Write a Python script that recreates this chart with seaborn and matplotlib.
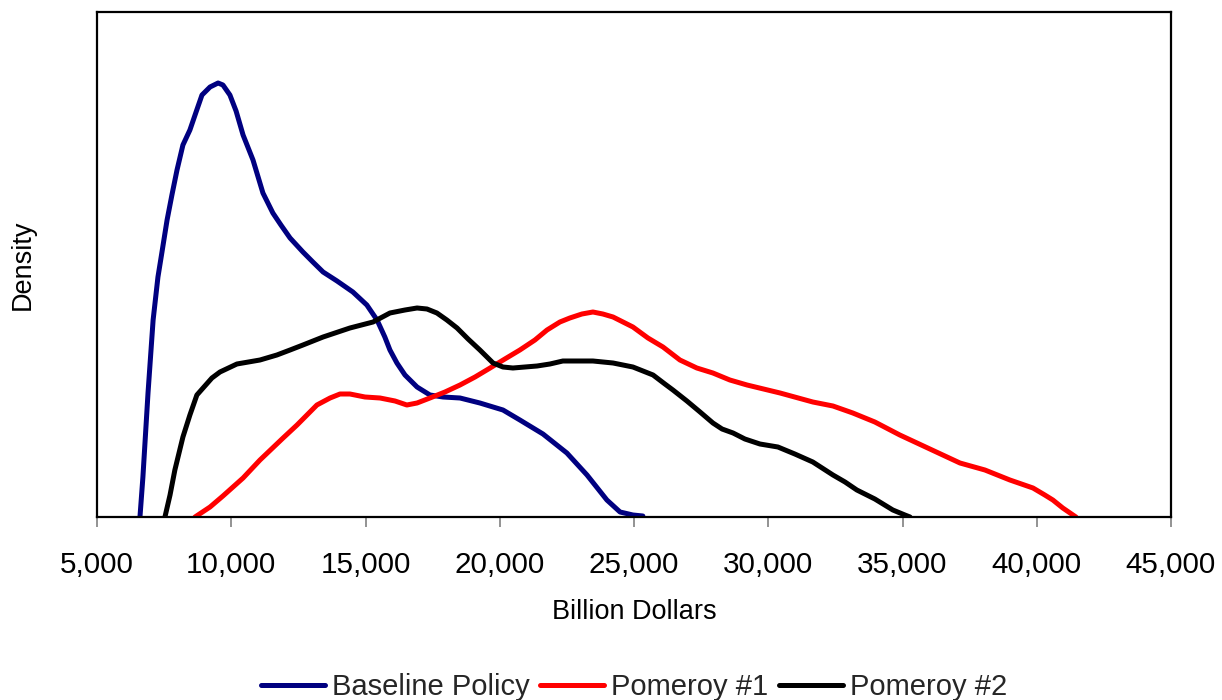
import numpy as np
import pandas as pd
import matplotlib
matplotlib.use("Agg")
import matplotlib.pyplot as plt
import seaborn as sns

# values (x in billion dollars, density in arbitrary units)
baseline_x = [6600, 6710, 6900, 7090, 7270, 7420, 7610, 7790, 7980, 8200, 8460, 8690, 8910,
              9210, 9510, 9690, 9950, 10180, 10440, 10810, 11180, 11550, 11850, 12190, 12670,
              13040, 13420, 13940, 14530, 15050, 15430, 15720, 15910, 16170, 16470, 16920,
              17400, 17890, 18520, 19260, 20120, 20750, 21610, 22500, 23250, 23990, 24480,
              24960, 25330]
baseline_y = [0, 40, 124, 197, 240, 265, 297, 322, 347, 372, 387, 405, 422,
              430, 434, 432, 422, 406, 382, 357, 324, 304, 292, 279, 265,
              255, 245, 236, 225, 212, 197, 180, 167, 154, 142, 130,
              122, 120, 119, 114, 107, 97, 83, 64, 42, 17, 5,
              2, 1]

pomeroy1_x = [8650, 9210, 9690, 10440, 11070, 11930, 12450, 13190, 13680, 14050, 14420, 14980,
              15540, 16100, 16540, 16920, 17400, 17960, 18520, 19080, 19640, 20190, 20750,
              21310, 21760, 22240, 22610, 23060, 23470, 23840, 24220, 24590, 24960, 25520,
              26080, 26710, 27340, 27940, 28570, 29210, 30440, 31660, 32410, 33150, 33970,
              34900, 36020, 37140, 38070, 39000, 39860, 40300, 40600, 40970, 41350, 41460]
pomeroy1_y = [0, 10, 21, 39, 57, 79, 92, 112, 119, 123, 123, 120,
              119, 116, 112, 114, 119, 125, 132, 140, 149, 158, 167,
              177, 187, 195, 199, 203, 205, 203, 200, 195, 190, 179,
              170, 157, 149, 144, 137, 132, 124, 115, 111, 104, 95,
              82, 68, 54, 47, 37, 29, 22, 17, 9, 2, 0]

pomeroy2_x = [7530, 7720, 7900, 8200, 8460, 8720, 8950, 9280, 9580, 10210, 11070, 11700,
              12190, 12670, 13420, 14420, 15280, 15910, 16470, 16920, 17290, 17660, 18030,
              18410, 18820, 19260, 19750, 20120, 20490, 20940, 21390, 21870, 22350, 22910,
              23470, 24220, 24960, 25710, 26150, 26450, 26970, 27460, 27940, 28280, 28690,
              29130, 29690, 30360, 30990, 31660, 32410, 32860, 33300, 33970, 34640, 35090,
              35280]
pomeroy2_y = [0, 22, 47, 80, 102, 122, 129, 139, 145, 153, 157, 162,
              167, 172, 180, 189, 195, 204, 207, 209, 208, 204, 197,
              189, 178, 167, 154, 150, 149, 150, 151, 153, 156, 156,
              156, 154, 150, 142, 133, 127, 116, 105, 94, 88, 84,
              78, 73, 70, 63, 55, 42, 35, 27, 18, 7, 2,
              0]

series_names = ["Baseline Policy", "Pomeroy #1", "Pomeroy #2"]
series_colors = ["#000080", "#FF0000", "#000000"]
x_ticks = [5000, 10000, 15000, 20000, 25000, 30000, 35000, 40000, 45000]

df = pd.concat([
    pd.DataFrame({"x": baseline_x, "y": baseline_y, "series": series_names[0]}),
    pd.DataFrame({"x": pomeroy1_x, "y": pomeroy1_y, "series": series_names[1]}),
    pd.DataFrame({"x": pomeroy2_x, "y": pomeroy2_y, "series": series_names[2]}),
], ignore_index=True)

sns.set_theme(style="white")
plt.rcParams["font.family"] = ["Liberation Sans", "DejaVu Sans"]

fig = plt.figure(figsize=(12.22, 7.0), dpi=100)
ax = fig.add_axes([97 / 1222, 1 - 517 / 700, 1074 / 1222, 505 / 700])

sns.lineplot(data=df, x="x", y="y", hue="series", hue_order=series_names,
             palette=series_colors, estimator=None, sort=False, linewidth=3.6, ax=ax)

ax.set_xlim(5000, 45000)
ax.set_ylim(0, 505)
ax.set_xticks(x_ticks)
ax.set_xticklabels([f"{t:,}" for t in x_ticks], fontsize=21.3, color="black")
ax.set_yticks([])
ax.tick_params(axis="x", direction="out", length=7.2, width=1.2, color="#808080",
               pad=17, bottom=True)

for s in ax.spines.values():
    s.set_color("black")
    s.set_linewidth(1.6)

ax.set_xlabel("Billion Dollars", fontsize=19.5, color="black")
ax.xaxis.set_label_coords(0.5, -0.163)
ax.set_ylabel("Density", fontsize=19.5, color="black", labelpad=44)

ax.legend(loc="center", bbox_to_anchor=(0.5, -0.337), ncol=3, frameon=False,
          fontsize=21, handlelength=2.2, handletextpad=0.25, columnspacing=0.35)

fig.savefig("out.png", dpi=100)
